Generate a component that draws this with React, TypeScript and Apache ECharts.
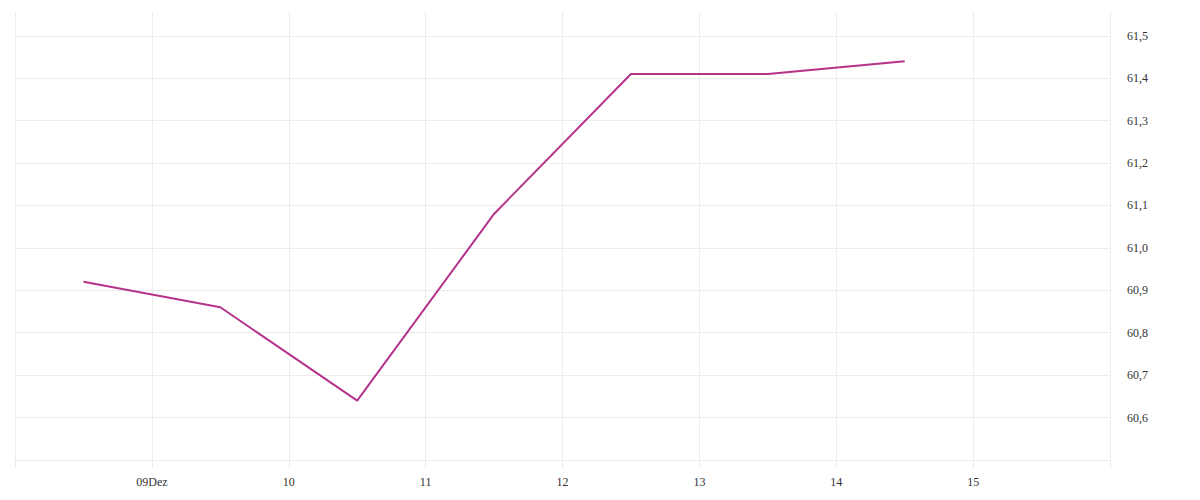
import React, { useEffect, useRef } from "react";
import * as echarts from "echarts";

// Days (noon positions within December) and closing values
const dayPositions = [8.5, 9.5, 10.5, 11.5, 12.5, 13.5, 14.5];
const values = [60.92, 60.86, 60.64, 61.08, 61.41, 61.41, 61.44];
const xTickLabels = ["", "09Dez", "10", "11", "12", "13", "14", "15", ""];
const yTickValues = [60.5, 60.6, 60.7, 60.8, 60.9, 61.0, 61.1, 61.2, 61.3, 61.4, 61.5];

export default function App() {
  const ref = useRef<HTMLDivElement>(null);
  useEffect(() => {
    if (!ref.current) return;
    const chart = echarts.init(ref.current, null, { renderer: "svg" });
    const gridColor = "#ececec";
    const splitColors = yTickValues.map(() => gridColor).concat(["rgba(0,0,0,0)"]);
    chart.setOption({
      animation: false,
      backgroundColor: "#ffffff",
      grid: { left: 15, right: 90, top: 12, bottom: 40, containLabel: false },
      xAxis: {
        type: "value",
        min: 8,
        max: 16,
        interval: 1,
        axisLine: { show: true, lineStyle: { color: gridColor, width: 1 } },
        axisTick: { show: true, length: 8, lineStyle: { color: gridColor } },
        splitLine: { show: true, lineStyle: { color: gridColor, width: 1 } },
        axisLabel: {
          color: "#333",
          fontFamily: "Liberation Serif",
          fontSize: 12,
          margin: 16,
          showMinLabel: true,
          showMaxLabel: true,
          formatter: (v: number) => xTickLabels[Math.round(v - 8)] ?? "",
        },
      },
      yAxis: {
        type: "value",
        position: "right",
        min: 60.5,
        max: 61.556,
        interval: 0.1,
        axisLine: { show: false },
        axisTick: { show: false },
        splitLine: { show: true, lineStyle: { color: splitColors, width: 1 } },
        axisLabel: {
          color: "#333",
          fontFamily: "Liberation Serif",
          fontSize: 12,
          margin: 17,
          showMinLabel: false,
          showMaxLabel: false,
          formatter: (v: number) => v.toFixed(1).replace(".", ","),
        },
      },
      series: [
        {
          type: "line",
          data: dayPositions.map((d, i) => [d, values[i]]),
          symbol: "none",
          lineStyle: { color: "#b5338a", width: 2 },
        },
      ],
    });
    return () => chart.dispose();
  }, []);
  return (
    <div
      ref={ref}
      style={{ position: "absolute", left: 0, top: 0, width: 1200, height: 500 }}
    />
  );
}
